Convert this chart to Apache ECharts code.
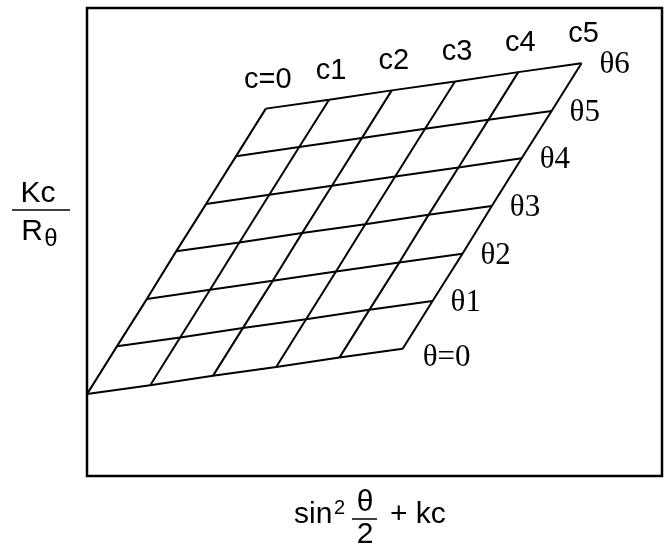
<!DOCTYPE html>
<html>
<head>
<meta charset="utf-8">
<script src="https://cdn.jsdelivr.net/npm/echarts@6/dist/echarts.min.js"></script>
<style>
html,body{margin:0;padding:0;background:#fff;}
#main{width:670px;height:551px;}
</style>
</head>
<body>
<div id="main"></div>
<script>
// Zimm plot: x = sin^2(theta/2) + k*c, y = Kc/R_theta
const thetaNames = ['θ=0', 'θ1', 'θ2', 'θ3', 'θ4', 'θ5', 'θ6'];
const concNames = ['c=0', 'c1', 'c2', 'c3', 'c4', 'c5'];
const sinTerm = [0, 0.52, 1.04, 1.55, 2.07, 2.59, 3.11];      // sin^2(theta/2) per angle
const kcTerm = [0, 1.10, 2.19, 3.29, 4.39, 5.49];              // k*c per concentration
// Kc/R_theta, one row per angle (theta=0..theta6), one column per concentration (c=0..c5)
const kcOverR = [
  [1.75, 1.94, 2.14, 2.33, 2.53, 2.72],
  [2.77, 2.96, 3.16, 3.35, 3.55, 3.74],
  [3.78, 3.98, 4.17, 4.37, 4.56, 4.75],
  [4.80, 4.99, 5.19, 5.38, 5.58, 5.77],
  [5.81, 6.01, 6.20, 6.40, 6.59, 6.79],
  [6.83, 7.03, 7.22, 7.42, 7.61, 7.80],
  [7.85, 8.04, 8.24, 8.43, 8.63, 8.82]
];

const SANS = '"Liberation Sans", Arial, Helvetica, sans-serif';
const SERIF = '"Liberation Serif", "Times New Roman", serif';
const lineStyle = { color: '#000', width: 2 };

function pt(j, i) { return [sinTerm[j] + kcTerm[i], kcOverR[j][i]]; }

const series = [];
// constant-angle lines
for (let j = 0; j < thetaNames.length; j++) {
  const data = [];
  for (let i = 0; i < concNames.length; i++) data.push(pt(j, i));
  series.push({ type: 'line', data, symbol: 'none', lineStyle, silent: true, animation: false });
}
// constant-concentration lines
for (let i = 0; i < concNames.length; i++) {
  const data = [];
  for (let j = 0; j < thetaNames.length; j++) data.push(pt(j, i));
  series.push({ type: 'line', data, symbol: 'none', lineStyle, silent: true, animation: false });
}
// concentration labels above the top (theta6) line
series.push({
  type: 'scatter', symbolSize: 1, itemStyle: { color: 'transparent' }, silent: true, animation: false,
  data: concNames.map((n, i) => ({ value: pt(thetaNames.length - 1, i), name: n })),
  label: {
    show: true, position: 'inside', formatter: p => p.name, offset: [2, -29],
    align: 'center', verticalAlign: 'middle', color: '#000', opacity: 1,
    textBorderWidth: 0, textShadowBlur: 0, fontSize: 29, fontFamily: SANS
  }
});
// angle labels to the right of the c5 line
series.push({
  type: 'scatter', symbolSize: 1, itemStyle: { color: 'transparent' }, silent: true, animation: false,
  data: thetaNames.map((n, j) => {
    const item = { value: pt(j, concNames.length - 1), name: n };
    if (j === 0) item.label = { offset: [20, 9] };
    return item;
  }),
  label: {
    show: true, position: 'inside', formatter: p => p.name, offset: [18, 2],
    align: 'left', verticalAlign: 'middle', color: '#000', opacity: 1,
    textBorderWidth: 0, textShadowBlur: 0, fontSize: 31, fontFamily: SERIF
  }
});

const txt = (x, y, text, size, family, align) => ({
  type: 'text', x, y, silent: true,
  style: { text, fill: '#000', font: size + 'px ' + family, align: align || 'center', verticalAlign: 'middle' }
});
const seg = (x1, y1, x2, y2) => ({
  type: 'line', silent: true, shape: { x1, y1, x2, y2 }, style: { stroke: '#000', lineWidth: 1.5 }
});

const option = {
  backgroundColor: '#fff',
  animation: false,
  grid: { left: 87, top: 8, right: 8, bottom: 75, show: true, borderColor: '#000', borderWidth: 2.5, backgroundColor: 'transparent' },
  xAxis: { type: 'value', min: 0, max: 10, axisLine: { show: false }, axisTick: { show: false }, axisLabel: { show: false }, splitLine: { show: false } },
  yAxis: { type: 'value', min: 0, max: 10, axisLine: { show: false }, axisTick: { show: false }, axisLabel: { show: false }, splitLine: { show: false } },
  series,
  graphic: [
    // y-axis name: Kc / R_theta
    txt(38, 194, 'Kc', 30, SANS),
    seg(12, 210, 70, 210),
    txt(32, 232, 'R', 30, SANS),
    txt(51, 239, 'θ', 24, SANS),
    // x-axis name: sin^2 (theta/2) + kc
    txt(294, 515, 'sin', 30, SANS, 'left'),
    txt(334, 508, '2', 20, SANS, 'left'),
    txt(365, 503, 'θ', 30, SANS),
    seg(352, 519, 377, 519),
    txt(365, 535, '2', 30, SANS),
    txt(390, 515, '+ kc', 30, SANS, 'left')
  ]
};

const chart = echarts.init(document.getElementById('main'), null, { renderer: 'canvas' });
chart.setOption(option);
</script>
</body>
</html>
